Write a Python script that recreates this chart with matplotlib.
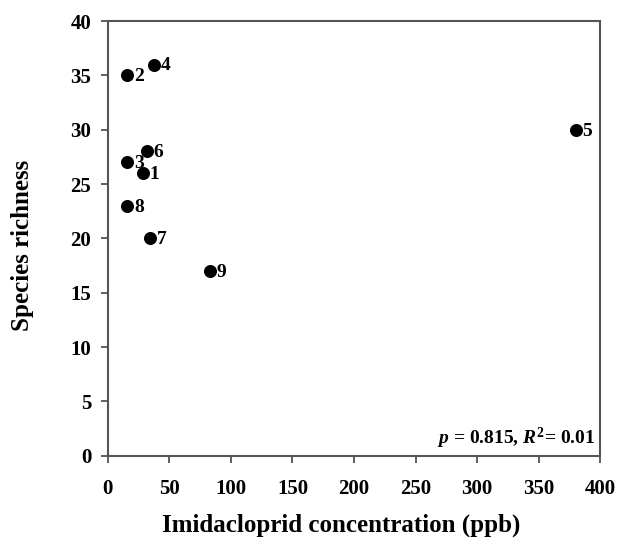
import matplotlib.pyplot as plt

plt.rcParams['font.family'] = ['Liberation Serif', 'DejaVu Serif']
plt.rcParams['font.weight'] = 'bold'
plt.rcParams['mathtext.fontset'] = 'custom'
plt.rcParams['mathtext.it'] = 'Liberation Serif:italic:bold'
plt.rcParams['mathtext.rm'] = 'Liberation Serif:bold'

# data
site = ['1', '2', '3', '4', '5', '6', '7', '8', '9']
imid = [28.5, 15.5, 15.5, 37.5, 380, 31.5, 34, 15.5, 83]
richness = [26, 35, 27, 36, 30, 28, 20, 23, 17]

fig = plt.figure(figsize=(6.2, 5.4), dpi=100)
ax = fig.add_axes([0.174, 0.156, 0.794, 0.805])

ax.scatter(imid, richness, s=70, color='black', zorder=3)
for x, y, s in zip(imid, richness, site):
    ax.annotate(s, (x, y), xytext=(5, -1), textcoords='offset points',
                fontsize=14, fontweight='bold', va='center')

ax.set_xlim(0, 400)
ax.set_ylim(0, 40)
ax.set_xticks(range(0, 401, 50))
ax.set_yticks(range(0, 41, 5))
ax.tick_params(labelsize=15, direction='out', length=5, width=1.2, color='#444444')
ax.tick_params(axis='x', pad=12)
ax.tick_params(axis='y', pad=7)
for sp in ax.spines.values():
    sp.set_linewidth(1.5)
    sp.set_color('#555555')

ax.set_xlabel('Imidacloprid concentration (ppb)', fontsize=18, fontweight='bold', labelpad=10)
ax.set_ylabel('Species richness', fontsize=18, fontweight='bold', labelpad=26)
ax.xaxis.label.set_x(0.474)
ax.yaxis.label.set_y(0.485)

ax.text(0.99, 0.012, r'$p$ = 0.815, $R^2$= 0.01', transform=ax.transAxes,
        ha='right', va='bottom', fontsize=14, fontweight='bold')

fig.savefig('out.png', dpi=100)
